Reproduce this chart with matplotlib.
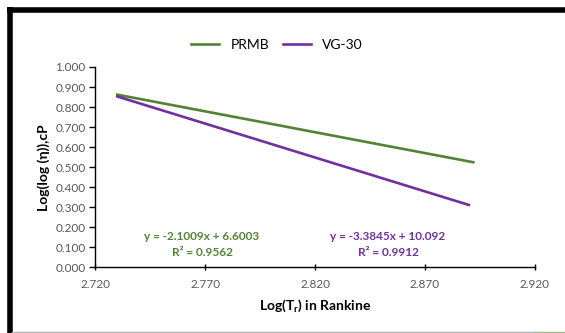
import matplotlib.pyplot as plt
from matplotlib.lines import Line2D

plt.rcParams['font.family'] = ['Lato', 'DejaVu Sans']

# data (end points of each line)
prmb_x = [2.730, 2.892]
prmb_y = [0.862, 0.525]
vg30_x = [2.730, 2.890]
vg30_y = [0.853, 0.312]

xticks = [2.720, 2.770, 2.820, 2.870, 2.920]
yticks = [0.0, 0.1, 0.2, 0.3, 0.4, 0.5, 0.6, 0.7, 0.8, 0.9, 1.0]

green = '#548235'
purple = '#7030A0'

fig = plt.figure(figsize=(5.65, 3.33), dpi=100)
ax = fig.add_axes([0.1687, 0.1967, 0.7777, 0.6021])

ax.plot(prmb_x, prmb_y, color=green, lw=1.9, label='PRMB')
ax.plot(vg30_x, vg30_y, color=purple, lw=1.9, label='VG-30')

ax.set_xlim(2.720, 2.920)
ax.set_ylim(0, 1.0)
ax.set_xticks(xticks)
ax.set_yticks(yticks)
ax.set_xticklabels(['%.3f' % v for v in xticks])
ax.set_yticklabels(['%.3f' % v for v in yticks])
ax.tick_params(axis='both', labelsize=8.5, colors='#595959', length=4, width=1)
ax.tick_params(axis='x', direction='inout', length=5, pad=6)
ax.tick_params(axis='y', direction='out', pad=3)
ax.tick_params(axis='both', color='black')
for s in ['top', 'right']:
    ax.spines[s].set_visible(False)
for s in ['left', 'bottom']:
    ax.spines[s].set_color('black')
    ax.spines[s].set_linewidth(1)

ax.set_xlabel('Log(T$_\\mathregular{r}$) in Rankine', fontsize=10, fontweight='bold', labelpad=5)
ax.set_ylabel('Log(log (η)),cP', fontsize=10, fontweight='bold', labelpad=4)

# trendline equations
fig.text(202 / 565, 1 - 236 / 333, 'y = -2.1009x + 6.6003', color=green, fontsize=8.5,
         fontweight='bold', ha='center', va='center')
fig.text(202 / 565, 1 - 252 / 333, 'R² = 0.9562', color=green, fontsize=8.5,
         fontweight='bold', ha='center', va='center')
fig.text(388 / 565, 1 - 237 / 333, 'y = -3.3845x + 10.092', color=purple, fontsize=8.5,
         fontweight='bold', ha='center', va='center')
fig.text(388 / 565, 1 - 253 / 333, 'R² = 0.9912', color=purple, fontsize=8.5,
         fontweight='bold', ha='center', va='center')

fig.legend(loc='center', bbox_to_anchor=(277 / 565, 1 - 45 / 333), ncol=2, frameon=False,
           fontsize=10, handlelength=2.0, columnspacing=1.0, handletextpad=0.8)

# thick frame on the top and left edge, thin line at the bottom
fig.add_artist(Line2D([7 / 565, 1], [1 - 9.5 / 333, 1 - 9.5 / 333], color='black', lw=4,
                      transform=fig.transFigure, solid_capstyle='butt'))
fig.add_artist(Line2D([9.5 / 565, 9.5 / 565], [1 - 7 / 333, 0], color='black', lw=4,
                      transform=fig.transFigure, solid_capstyle='butt'))
fig.add_artist(Line2D([12 / 565, 535 / 565], [1.5 / 333, 1.5 / 333], color='#b0b0b0', lw=1,
                      transform=fig.transFigure))
fig.add_artist(Line2D([535 / 565, 1], [1.5 / 333, 1.5 / 333], color='#9bbb89', lw=1,
                      transform=fig.transFigure))

fig.savefig('out.png', dpi=100)
